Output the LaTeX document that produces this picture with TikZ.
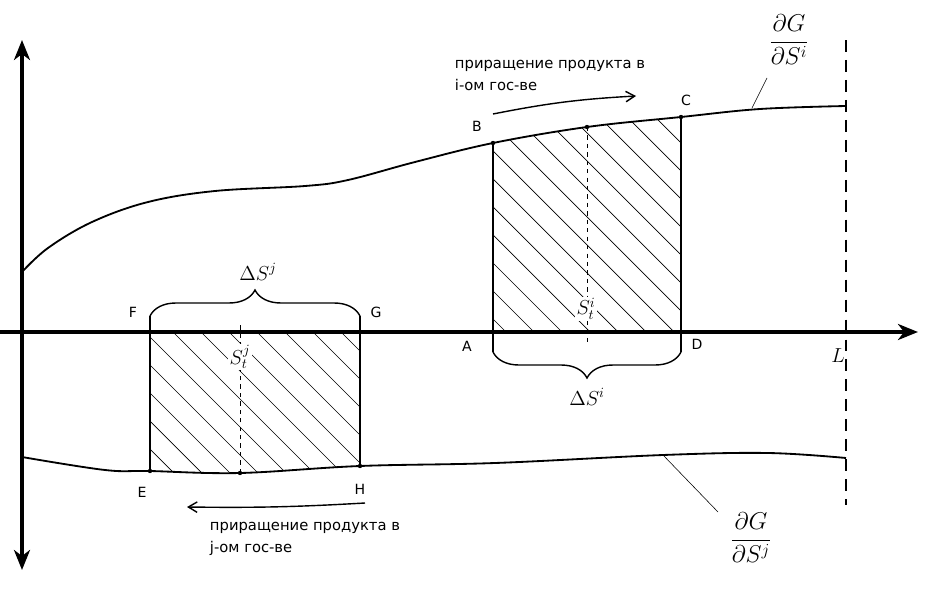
\documentclass[tikz,border=0pt]{standalone}
\usepackage{amsmath}
\usepackage{fontspec}
\newfontfamily\rufont{DejaVu Sans}
\usetikzlibrary{arrows.meta, decorations.pathreplacing}
\newcommand{\uppercurve}{plot[smooth, tension=0.6] coordinates {(22,272) (48,248) (92,222) (148,202) (215,191) (305,186) (348,180) (415,162) (493,143) (587,127) (681,117) (760,109) (846,106)}}
\newcommand{\lowercurve}{plot[smooth, tension=0.6] coordinates {(22,457) (105,470) (150,471) (240,473) (360,466) (495,463) (663,455) (768,453) (846,458)}}

\begin{document}
\begin{tikzpicture}[x=0.025cm, y=-0.025cm, axis/.style={line width=2.4pt}, axtip/.tip={Stealth[length=5mm, width=4mm, inset=1.5mm]}, curve/.style={line width=1.3pt}, side/.style={line width=1.6pt}, hatch/.style={line width=0.5pt}, flow/.style={-{Straight Barb[length=2.2mm, width=2.6mm]}, line width=1pt}, brc/.style={decorate, decoration={brace, amplitude=0.65cm}, line width=1pt}, pt/.style={font=\rufont\fontsize{10}{12}\selectfont}, note/.style={font=\rufont\fontsize{10.5}{16}\selectfont, align=left, anchor=north west}, math/.style={font=\Large}, frac/.style={font=\LARGE}]
\useasboundingbox (0,0) rectangle (941,592);

\coordinate (ytop) at (22,40); \coordinate (ybot) at (22,570); \coordinate (xl) at (0,332); \coordinate (xr) at (918,332);
\coordinate (A) at (493,332); \coordinate (B) at (493,143); \coordinate (C) at (681,117); \coordinate (D) at (681,332);
\coordinate (F) at (150,332); \coordinate (G) at (360,332); \coordinate (E) at (150,471); \coordinate (H) at (360,466);
\coordinate (a1) at (493,352); \coordinate (d1) at (681,352); \coordinate (f1) at (150,316); \coordinate (g1) at (360,316);
\coordinate (mi) at (587,127); \coordinate (mi1) at (587,345); \coordinate (mj) at (240,473); \coordinate (mj1) at (240,322);
\coordinate (Lt) at (846,40); \coordinate (Lb) at (846,505);

% hatched areas
\begin{scope}
\clip (493,100) rectangle (681,332); \clip \uppercurve -- (846,332) -- (22,332) -- cycle;
\foreach \k in {-247,-219,...,175} \draw[hatch] (493+\k,100) -- ++(260,260);
\end{scope}
\begin{scope}
\clip (150,332) rectangle (360,480); \clip \lowercurve -- (846,332) -- (22,332) -- cycle;
\foreach \k in {-177,-149,...,180} \draw[hatch] (150+\k,300) -- ++(250,250);
\end{scope}

\draw[curve] \uppercurve; \draw[curve] \lowercurve;
\draw[side] (B) -- (a1); \draw[side] (C) -- (d1); \draw[side] (E) -- (f1); \draw[side] (H) -- (g1);
\draw[dashed] (mi) -- (mi1); \draw[dashed] (mj) -- (mj1);
\draw[line width=1.4pt, dash pattern=on 8.5pt off 5.7pt] (Lt) -- (Lb);
\draw[brc] (f1) -- (g1); \draw[brc] (d1) -- (a1);
\foreach \p in {A,B,C,D,E,F,G,H,mi,mj} \fill (\p) circle (2.2);
\draw[axis, axtip-axtip] (ybot) -- (ytop); \draw[axis, -axtip] (xl) -- (xr);

\node[pt] (lA) at (467,346) {A}; \node[pt] (lB) at (477,126) {B}; \node[pt] (lC) at (686,100) {C}; \node[pt] (lD) at (697,344) {D};
\node[pt] (lE) at (142,492) {E}; \node[pt] (lF) at (133,312) {F}; \node[pt] (lG) at (376,312) {G}; \node[pt] (lH) at (360,489) {H};
\node[math] (lL) at (838,356) {$L$};
\node[math, fill=white, inner sep=1pt] (si) at (586,309) {$S_t^i$}; \node[math, fill=white, inner sep=1pt] (sj) at (240,357) {$S_t^j$};
\node[math] (dsj) at (258,272) {$\Delta S^j$}; \node[math] (dsi) at (587,397) {$\Delta S^i$};

\node[frac] (gi) at (789,40) {$\dfrac{\partial G}{\partial S^i}$}; \coordinate (gi1) at (767,78); \coordinate (gi2) at (752,108); \draw (gi1) -- (gi2);
\node[frac] (gj) at (751,538) {$\dfrac{\partial G}{\partial S^j}$}; \coordinate (gj1) at (718,512); \coordinate (gj2) at (663,455); \draw (gj1) -- (gj2);

\node[note] (ti) at (450,55) {приращение продукта в\\i-ом гос-ве}; \coordinate (ri1) at (493,114); \coordinate (ri2) at (636,96); \draw[flow] (ri1) to[bend left=4] (ri2);
\node[note] (tj) at (205,517) {приращение продукта в\\j-ом гос-ве}; \coordinate (rj1) at (365,503); \coordinate (rj2) at (187,507); \draw[flow] (rj1) to[bend left=2] (rj2);
\end{tikzpicture}
\end{document}
